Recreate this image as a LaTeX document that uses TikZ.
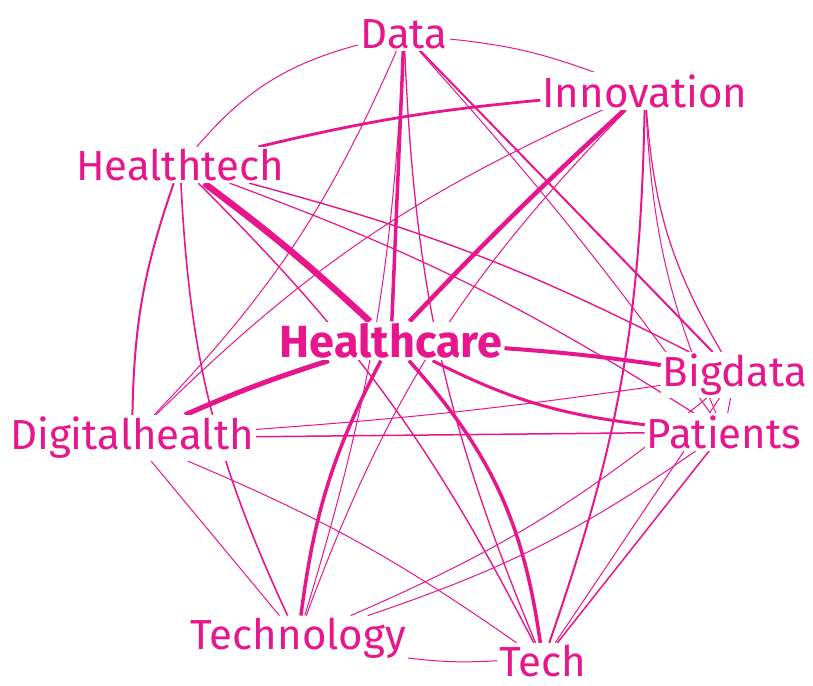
\documentclass[tikz,border=0pt]{standalone}
\usepackage{fontspec}
\setmainfont{Fira Sans}
\usetikzlibrary{backgrounds}
\definecolor{pk}{RGB}{232,22,140}
\begin{document}
\begin{tikzpicture}[x=1pt,y=-1pt,
  lbl/.style={fill=white,inner sep=2pt,text=pk,font=\fontsize{42}{42}\selectfont},
  hub/.style={fill=white,inner sep=2pt,text=pk,font=\bfseries\fontsize{45}{45}\selectfont},
  ed/.style={draw=pk,line width=#1}]
\useasboundingbox (0,0) rectangle (813,685);
\node[lbl] (D) at (404,34) {Data};
\node[lbl] (I) at (645,91) {Innovation};
\node[lbl] (HT) at (180,165) {Healthtech};
\node[hub] (HC) at (391,341) {Healthcare};
\node[lbl] (B) at (735,375) {Bigdata};
\node[lbl] (DH) at (132,438) {Digitalhealth};
\node[lbl] (P) at (724,432) {Patients};
\node[lbl] (TY) at (298,638) {Technology};
\node[lbl] (T) at (543,661) {Tech};
\begin{scope}[on background layer]
\draw[ed=6.5] (HT) to[bend left=3] (HC);
\draw[ed=5] (HC) to[bend right=3] (DH);
\draw[ed=4.5] (HC) to[bend left=2] (I);
\draw[ed=3.5] (D) -- (HC);
\draw[ed=4] (HC) to[bend left=2] (B);
\draw[ed=3] (HC) to[bend right=10] (P);
\draw[ed=3.5] (HC) to[bend right=10] (TY);
\draw[ed=3.5] (HC) to[bend left=17] (T);
\draw[ed=1] (D) to[bend right=17] (HT);
\draw[ed=1] (D) to[bend left=7] (I);
\draw[ed=2.8] (HT) to[bend left=4] (I);
\draw[ed=2] (HT) to[bend right=9] (DH);
\draw[ed=1.6] (HT) to[bend right=11] (TY);
\draw[ed=1.4] (HT) to[bend left=6] (B);
\draw[ed=1.2] (HT) to[bend left=6] (P);
\draw[ed=1.4] (HT) to[bend left=9] (T);
\draw[ed=1] (D) to[bend left=10] (DH);
\draw[ed=1.3] (D) to[bend right=10] (T);
\draw[ed=1] (D) to[bend left=7] (TY);
\draw[ed=2] (D) -- (B);
\draw[ed=1] (D) to[bend left=3] (P);
\draw[ed=1] (I) to[bend right=10] (DH);
\draw[ed=1] (I) to[bend right=12] (TY);
\draw[ed=2] (I) to[bend left=9] (T);
\draw[ed=1.2] (I) to[bend right=13] (B);
\draw[ed=1] (I) to[bend right=10] (P);
\draw[ed=1] (DH) to[bend right=2] (B);
\draw[ed=1.5] (DH) -- (P);
\draw[ed=1] (DH) -- (TY);
\draw[ed=1] (DH) to[bend left=6] (T);
\draw[ed=1] (TY) to[bend right=8] (P);
\draw[ed=1] (TY) to[bend right=8] (B);
\draw[ed=1] (TY) to[bend right=5] (T);
\draw[ed=1.5] (P) -- (T);
\draw[ed=1] (B) -- (T);
\draw[ed=1] (B) -- (P);
\end{scope}
\end{tikzpicture}
\end{document}
